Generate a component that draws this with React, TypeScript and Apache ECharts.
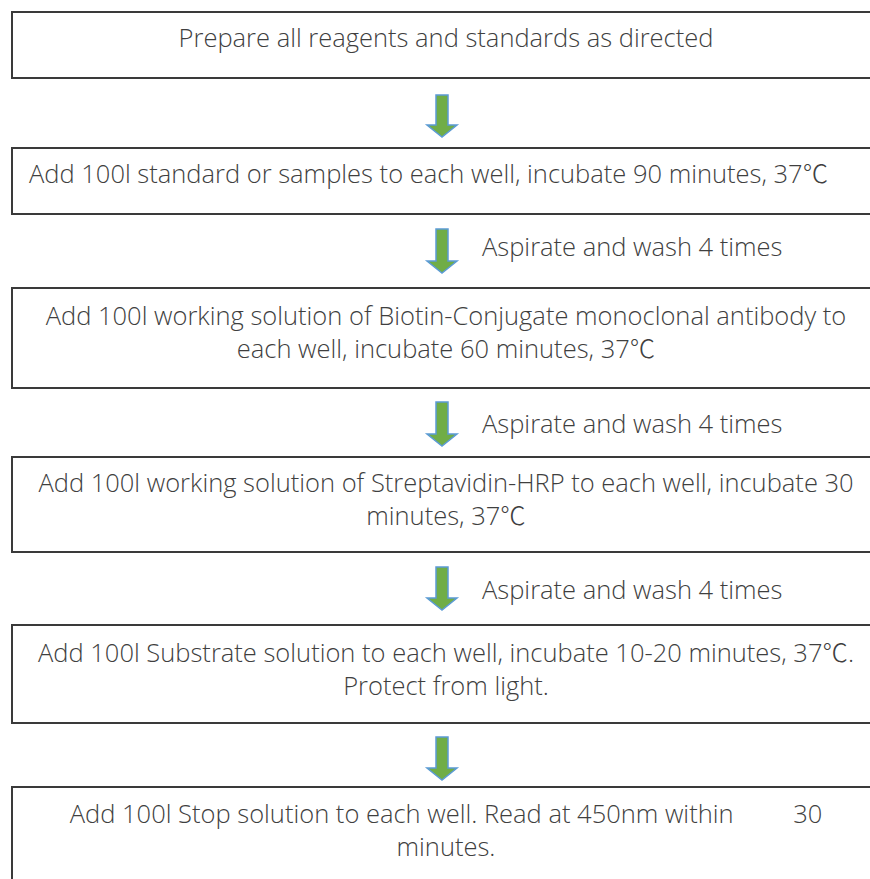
import React, { useEffect, useRef } from "react";
import * as echarts from "echarts";

// ---- content (data) ----
const stepLines: string[][] = [
  ["Prepare all reagents and standards as directed"],
  ["Add 100l standard or samples to each well, incubate 90 minutes, 37℃"],
  ["Add 100l working solution of Biotin-Conjugate monoclonal antibody to", "each well, incubate 60 minutes, 37℃"],
  ["Add 100l working solution of Streptavidin-HRP to each well, incubate 30", "minutes, 37℃"],
  ["Add 100l Substrate solution to each well, incubate 10-20 minutes, 37℃.", "Protect from light."],
  ["Add 100l Stop solution to each well. Read at 450nm within         30", "minutes."],
];
const arrowLabels: string[] = ["", "Aspirate and wash 4 times", "Aspirate and wash 4 times", "Aspirate and wash 4 times", ""];

// ---- layout ----
const boxLeft = 12;
const boxWidth = 1000;
const boxTops = [12, 148, 288, 457, 625, 787];
const boxBottoms = [78, 214, 388, 552, 723, 950];
const firstLineY = [37, 173, 315, 482, 652, 813];
const lineGap = 32.5;
const textCenterX = 446;
const arrowX = 442;
const arrowTops = [95, 229, 402, 567, 737];
const arrowTips = [137, 273, 446, 610, 780];
const labelX = 482;
const labelY = [0, 246, 423, 589, 0];

const FONT = "'Open Sans', 'Noto Sans CJK SC', Lato, sans-serif";
const FONT_SIZE = 25.5;
const TEXT_COLOR = "#3f3f3f";

export default function App() {
  const ref = useRef<HTMLDivElement>(null);
  useEffect(() => {
    if (!ref.current) return;
    const chart = echarts.init(ref.current, null, { renderer: "svg" });
    const elements: any[] = [];
    stepLines.forEach((lines, i) => {
      elements.push({
        type: "rect",
        shape: { x: boxLeft, y: boxTops[i], width: boxWidth, height: boxBottoms[i] - boxTops[i] },
        style: { fill: "#ffffff", stroke: "#3a3a3a", lineWidth: 2 },
      });
      lines.forEach((t, j) => {
        const leftAligned = i === 1;
        elements.push({
          type: "text",
          x: leftAligned ? 29 : textCenterX,
          y: firstLineY[i] + j * lineGap,
          style: {
            text: t,
            fill: TEXT_COLOR,
            font: `300 ${FONT_SIZE}px ${FONT}`,
            align: leftAligned ? "left" : "center",
            verticalAlign: "middle",
          },
        });
      });
    });
    arrowTops.forEach((top, i) => {
      const tip = arrowTips[i];
      const headH = 12;
      const shaftHalf = 6;
      const headHalf = 15;
      const hb = tip - headH;
      elements.push({
        type: "polygon",
        shape: {
          points: [
            [arrowX - shaftHalf, top],
            [arrowX + shaftHalf, top],
            [arrowX + shaftHalf, hb],
            [arrowX + headHalf, hb],
            [arrowX, tip],
            [arrowX - headHalf, hb],
            [arrowX - shaftHalf, hb],
          ],
        },
        style: { fill: "#70ad47", stroke: "#5b9bd5", lineWidth: 1.5 },
      });
      if (arrowLabels[i]) {
        elements.push({
          type: "text",
          x: labelX,
          y: labelY[i],
          style: {
            text: arrowLabels[i],
            fill: TEXT_COLOR,
            font: `300 ${FONT_SIZE}px ${FONT}`,
            align: "left",
            verticalAlign: "middle",
          },
        });
      }
    });
    chart.setOption({
      animation: false,
      backgroundColor: "#ffffff",
      graphic: { elements },
    });
    return () => chart.dispose();
  }, []);
  return (
    <div
      ref={ref}
      style={{ position: "fixed", left: 0, top: 0, width: 870, height: 879, background: "#fff" }}
    />
  );
}
